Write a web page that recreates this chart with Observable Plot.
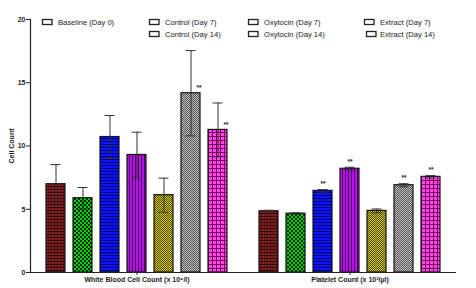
<!DOCTYPE html>
<html>
<head>
<meta charset="utf-8">
<script src="https://cdn.jsdelivr.net/npm/d3@7"></script>
<script src="https://cdn.jsdelivr.net/npm/@observablehq/plot@0.6"></script>
<style>
  html, body { margin: 0; padding: 0; background: #fff; }
  #wrap { position: relative; width: 476px; height: 288px; font-family: "Liberation Sans", Arial, sans-serif; }
  #wrap > svg { position: absolute; left: 0; top: 0; }
</style>
</head>
<body>
<svg width="0" height="0" style="position:absolute">
  <defs>
    <pattern id="p0" width="3" height="3" patternUnits="userSpaceOnUse">
      <rect width="3" height="3" fill="#8e2222"/>
      <rect width="3" height="1" fill="#2a0a0a"/>
      <rect width="1" height="3" fill="#3a0c0c" opacity="0.7"/>
    </pattern>
    <pattern id="p1" width="4" height="4" patternUnits="userSpaceOnUse">
      <rect width="4" height="4" fill="#00d400"/>
      <rect width="2" height="2" fill="#002800"/>
      <rect x="2" y="2" width="2" height="2" fill="#002800"/>
    </pattern>
    <pattern id="p2" width="3" height="3" patternUnits="userSpaceOnUse">
      <rect width="3" height="3" fill="#0a14ff"/>
      <rect width="3" height="1" fill="#00006a"/>
    </pattern>
    <pattern id="p3" width="3" height="3" patternUnits="userSpaceOnUse">
      <rect width="3" height="3" fill="#b612e8"/>
      <rect width="1" height="3" fill="#4a005e"/>
    </pattern>
    <pattern id="p4" width="2" height="2" patternUnits="userSpaceOnUse">
      <rect width="2" height="2" fill="#d8d000"/>
      <rect width="1" height="1" fill="#4a4600"/>
      <rect x="1" y="1" width="1" height="1" fill="#4a4600"/>
    </pattern>
    <pattern id="p5" width="2" height="2" patternUnits="userSpaceOnUse">
      <rect width="2" height="2" fill="#c4c4c4"/>
      <rect width="1" height="1" fill="#505050"/>
      <rect x="1" y="1" width="1" height="1" fill="#505050"/>
    </pattern>
    <pattern id="p6" width="4" height="4" patternUnits="userSpaceOnUse">
      <rect width="4" height="4" fill="#ff48e4"/>
      <rect width="4" height="1" fill="#7a0064"/>
      <rect width="1" height="4" fill="#7a0064"/>
    </pattern>
  </defs>
</svg>
<div id="wrap"></div>
<script>
const groups = ["White Blood Cell Count (x 10\u2079/l)", "Platelet Count (x 10\u00B3/\u00B5l)"];
const treatments = ["Baseline (Day 0)", "Control (Day 7)", "Control (Day 14)", "Oxytocin (Day 7)", "Oxytocin (Day 14)", "Extract (Day 7)", "Extract (Day 14)"];
const patterns = ["url(#p0)", "url(#p1)", "url(#p2)", "url(#p3)", "url(#p4)", "url(#p5)", "url(#p6)"];

const wbcMean = [6.98, 5.87, 10.71, 9.29, 6.11, 14.17, 11.27];
const wbcErr  = [1.55, 0.85, 1.70, 1.80, 1.35, 3.37, 2.13];
const wbcSig  = [false, false, false, false, false, true, true];

const pltMean = [4.84, 4.65, 6.45, 8.20, 4.87, 6.90, 7.56];
const pltErr  = [0.08, 0.06, 0.10, 0.12, 0.15, 0.12, 0.10];
const pltSig  = [false, false, true, true, false, true, true];

const yTicks = [0, 5, 10, 15, 20];

const data = [];
treatments.forEach((t, i) => data.push({group: groups[0], gi: 0, treatment: t, fill: patterns[i], value: wbcMean[i], err: wbcErr[i], sig: wbcSig[i]}));
treatments.forEach((t, i) => data.push({group: groups[1], gi: 1, treatment: t, fill: patterns[i], value: pltMean[i], err: pltErr[i], sig: pltSig[i]}));

const chart = Plot.plot({
  width: 476,
  height: 288,
  marginLeft: 30,
  marginRight: 20,
  marginTop: 19,
  marginBottom: 16,
  style: {fontFamily: "Liberation Sans, Arial, sans-serif", background: "#fff", color: "#222"},
  fx: {domain: groups, padding: 0, label: null},
  x: {domain: treatments, paddingInner: 0.314, paddingOuter: 0.5, axis: null},
  y: {domain: [0, 20]},
  color: {type: "identity"},
  marks: [
    Plot.frame({anchor: "left", facetAnchor: "left", stroke: "#222", strokeWidth: 1.2}),
    Plot.barY(data, {fx: "group", x: "treatment", y: "value", fill: "fill", stroke: "#111", strokeWidth: 1.2}),
    Plot.ruleX(data, {fx: "group", x: "treatment", y1: d => d.value - d.err, y2: d => d.value + d.err, stroke: "#333", strokeWidth: 1}),
    Plot.tickY(data, {fx: "group", x: "treatment", y: d => d.value + d.err, stroke: "#333", strokeWidth: 1, insetLeft: 4.5, insetRight: 4.5}),
    Plot.tickY(data, {fx: "group", x: "treatment", y: d => d.value - d.err, stroke: "#333", strokeWidth: 1, insetLeft: 4.5, insetRight: 4.5}),
    Plot.text(data.filter(d => d.sig && d.gi === 0), {fx: "group", x: "treatment", y: "value", text: () => "**", dx: 8, dy: -5, fontSize: 6.5, fontWeight: "bold", fill: "#222"}),
    Plot.text(data.filter(d => d.sig && d.gi === 1), {fx: "group", x: "treatment", y: "value", text: () => "**", dy: -7, fontSize: 6.5, fontWeight: "bold", fill: "#222"}),
    Plot.ruleY([0], {stroke: "#222", strokeWidth: 1.2}),
    Plot.axisY({ticks: yTicks, tickSize: 4, tickPadding: 1, fontSize: 7, fontWeight: "bold", label: null}),
    Plot.axisFx({anchor: "bottom", tickSize: 3, tickPadding: 2, fontSize: 7, fontWeight: "bold", label: null})
  ]
});
const wrap = document.getElementById("wrap");
wrap.appendChild(chart);

// Legend and y-axis title as an SVG overlay
const legendItems = [
  {label: treatments[0], sx: 42, tx: 58, y: 22},
  {label: treatments[1], sx: 149, tx: 165, y: 22},
  {label: treatments[2], sx: 149, tx: 165, y: 34},
  {label: treatments[3], sx: 248, tx: 264, y: 22},
  {label: treatments[4], sx: 248, tx: 264, y: 34},
  {label: treatments[5], sx: 364, tx: 380, y: 22},
  {label: treatments[6], sx: 366, tx: 380, y: 34}
];
const ov = d3.select(wrap).append("svg")
  .attr("width", 476).attr("height", 288)
  .style("font-family", "Liberation Sans, Arial, sans-serif")
  .style("pointer-events", "none");
const items = ov.selectAll("g.leg").data(legendItems).join("g").attr("class", "leg");
items.append("rect")
  .attr("x", d => d.sx + 0.5).attr("y", d => d.y - 2.5)
  .attr("width", 9.5).attr("height", 5)
  .attr("fill", "#fff").attr("stroke", "#222").attr("stroke-width", 1.3);
items.append("text")
  .attr("x", d => d.tx).attr("y", d => d.y)
  .attr("dy", "0.35em")
  .attr("font-size", 7.6).attr("fill", "#222")
  .text(d => d.label);
ov.append("text")
  .attr("transform", "translate(12,146) rotate(-90)")
  .attr("text-anchor", "middle").attr("dy", "0.35em")
  .attr("font-size", 7).attr("font-weight", "bold").attr("fill", "#222")
  .text("Cell Count");
</script>
</body>
</html>
